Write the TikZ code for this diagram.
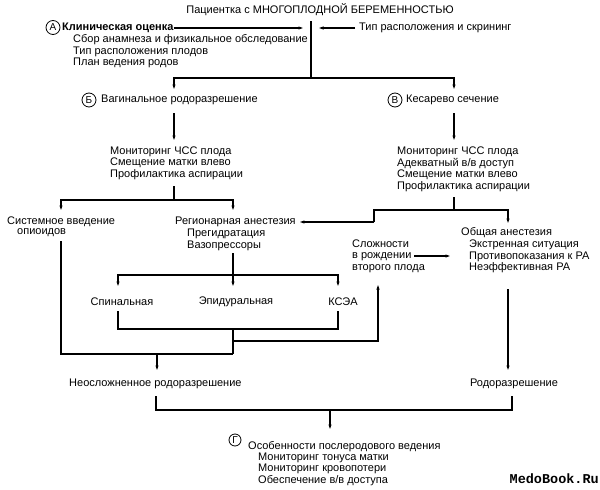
\documentclass[tikz,border=0pt]{standalone}
\usepackage{fontspec}
\setmainfont{Liberation Sans}
\newfontfamily\wmfont{Liberation Mono}
\usetikzlibrary{arrows.meta}
\tikzset{
  txt/.style={inner sep=0pt, font=\fontsize{11}{11.5}\selectfont},
  btxt/.style={inner sep=0pt, font=\fontsize{11}{11.5}\selectfont\bfseries},
  blk/.style={txt, align=left},
  circ/.style={draw, circle, inner sep=0pt, minimum size=14pt, line width=0.8pt, font=\fontsize{10}{10}\selectfont},
  con/.style={line width=1.1pt},
  arr/.style={con, -{Latex[length=5.5pt,width=3.4pt]}}
}
\begin{document}
\begin{tikzpicture}[x=1pt,y=-1pt]
\useasboundingbox[fill=white] (0,0) rectangle (600,490);
% top
\node[txt] (title) at (320,10) {Пациентка с МНОГОПЛОДНОЙ БЕРЕМЕННОСТЬЮ};
\coordinate (m0) at (311,21);
\coordinate (m1) at (311,78);
\draw[con] (m0) -- (m1);
\node[circ] (ca) at (53,27.5) {А};
\node[btxt, anchor=west] (clin) at (62,28) {Клиническая оценка};
\coordinate (ma) at (304,28);
\draw[arr] (clin.east) -- (ma);
\node[txt, anchor=west] (scr) at (359,28) {Тип расположения и скрининг};
\coordinate (mb) at (318,28);
\draw[arr] ([xshift=-4pt]scr.west) -- (mb);
\node[blk, anchor=west] (clinsub) at (73,51.5) {Сбор анамнеза и физикальное обследование\\Тип расположения плодов\\План ведения родов};
\coordinate (bl) at (174,90);
\coordinate (vr) at (454,90);
\draw[arr] (m1) -| (bl);
\draw[arr] (m1) -| (vr);
% second row
\node[circ] (cb) at (89,100) {Б};
\node[txt, anchor=west] (vag) at (101,100) {Вагинальное родоразрешение};
\node[circ] (cv) at (395,100) {В};
\node[txt, anchor=west] (ces) at (406,100) {Кесарево сечение};
\coordinate (va1) at (174,113);
\coordinate (va2) at (174,141);
\coordinate (ca1) at (454,113);
\coordinate (ca2) at (454,141);
\draw[arr] (va1) -- (va2);
\draw[arr] (ca1) -- (ca2);
\node[blk, anchor=west] (vagmon) at (110,163) {Мониторинг ЧСС плода\\Смещение матки влево\\Профилактика аспирации};
\node[blk, anchor=west] (cesmon) at (397,169.5) {Мониторинг ЧСС плода\\Адекватный в/в доступ\\Смещение матки влево\\Профилактика аспирации};
% left tree
\coordinate (lt0) at (174,186);
\coordinate (lt1) at (174,200);
\coordinate (sysa) at (61,211);
\coordinate (rega) at (233,211);
\draw[con] (lt0) -- (lt1);
\draw[arr] (lt1) -| (sysa);
\draw[arr] (lt1) -| (rega);
\node[txt, anchor=west] (sys1) at (7,222) {Системное введение};
\node[txt, anchor=west] (sys2) at (17,233) {опиоидов};
\node[txt, anchor=west] (reg) at (175,222) {Регионарная анестезия};
\node[txt, anchor=west] (reg2) at (187,234) {Прегидратация};
\node[txt, anchor=west] (reg3) at (187,246) {Вазопрессоры};
% right tree
\coordinate (rt0) at (454,197);
\coordinate (rt1) at (454,210);
\coordinate (rtl) at (374,210);
\coordinate (rtl2) at (374,222);
\coordinate (gaa) at (508,224);
\draw[con] (rt0) -- (rt1) -- (rtl) -- (rtl2);
\draw[arr] (rt1) -| (gaa);
\draw[arr] (rtl2) -- ([xshift=3pt]reg.east);
\node[txt, anchor=west] (ga) at (461,233) {Общая анестезия};
\node[blk, anchor=west] (gasub) at (469,256.5) {Экстренная ситуация\\Противопоказания к РА\\Неэффективная РА};
\node[blk, anchor=west] (dif) at (352,256) {Сложности\\в рождении\\второго плода};
\coordinate (difa) at (414,256);
\coordinate (difb) at (451,256);
\draw[arr] (difa) -- (difb);
% regional options
\coordinate (ep0) at (233,253);
\coordinate (ep1) at (233,275);
\coordinate (spa) at (118,287);
\coordinate (epa) at (233,287);
\coordinate (ksa) at (338,287);
\draw[arr] (ep0) -- (epa);
\draw[arr] (ep1) -| (spa);
\draw[arr] (ep1) -| (ksa);
\node[txt] (spin) at (122,302) {Спинальная};
\node[txt] (epid) at (236,302) {Эпидуральная};
\node[txt] (ksea) at (343,302) {КСЭА};
\coordinate (b1) at (118,311);
\coordinate (b2) at (118,329);
\coordinate (b3) at (338,329);
\coordinate (b4) at (338,311);
\draw[con] (b1) -- (b2) -- (b3) -- (b4);
\coordinate (bc) at (233,329);
\coordinate (bd) at (233,354);
\coordinate (be) at (233,341);
\coordinate (bf) at (378,341);
\coordinate (bg) at (378,284);
\draw[con] (bc) -- (bd);
\draw[arr] (be) -- (bf) -- (bg);
\coordinate (s1) at (61,241);
\coordinate (s2) at (61,354);
\draw[con] (s1) -- (s2) -- (bd);
\coordinate (u1) at (157,354);
\coordinate (u2) at (157,371);
\draw[arr] (u1) -- (u2);
\coordinate (g1) at (508,289);
\coordinate (g2) at (508,371);
\draw[arr] (g1) -- (g2);
\node[txt, anchor=west] (unc) at (69,384) {Неосложненное родоразрешение};
\node[txt] (del) at (514,384) {Родоразрешение};
% bottom
\coordinate (p1) at (156,396);
\coordinate (p2) at (156,410);
\coordinate (p3) at (512,410);
\coordinate (p4) at (512,396);
\draw[con] (p1) -- (p2) -- (p3) -- (p4);
\coordinate (pc) at (330,410);
\coordinate (pd) at (330,430);
\draw[arr] (pc) -- (pd);
\node[circ, minimum size=12pt] (cg) at (235,440) {Г};
\node[txt, anchor=west] (post) at (248,447) {Особенности послеродового ведения};
\node[blk, anchor=west] (postsub) at (258,469) {Мониторинг тонуса матки\\Мониторинг кровопотери\\Обеспечение в/в доступа};
\node[inner sep=0pt, anchor=east, font=\fontsize{13.5}{14}\selectfont\wmfont\bfseries] (wm) at (599,479) {MedoBook.Ru};
\end{tikzpicture}
\end{document}
